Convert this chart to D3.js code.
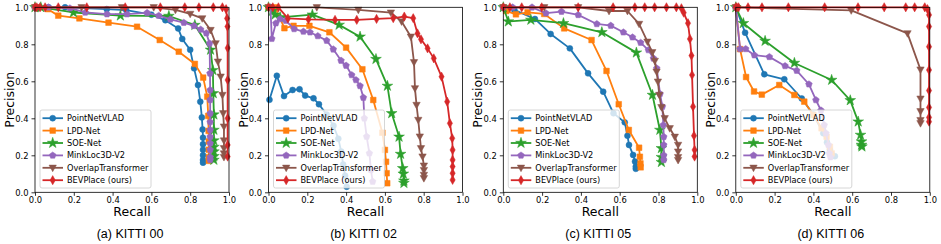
<!DOCTYPE html>
<html><head><meta charset="utf-8">
<script src="https://cdn.jsdelivr.net/npm/d3@7"></script>
<style>body{margin:0;background:#fff;} svg{display:block;}</style>
</head><body>
<svg id="c" width="941" height="244"></svg>
<script>
// ---------- data ----------
const seriesNames = ["PointNetVLAD","LPD-Net","SOE-Net","MinkLoc3D-V2","OverlapTransformer","BEVPlace (ours)"];
const seriesColors = ["#1f77b4","#ff7f0e","#2ca02c","#9467bd","#8c564b","#d62728"];
const seriesMarkers = ["circle","square","star","pentagon","tridown","thindiamond"];
const captions = ["(a) KITTI 00","(b) KITTI 02","(c) KITTI 05","(d) KITTI 06"];
const tickValues = [0,0.2,0.4,0.6,0.8,1.0];

// KITTI 00 : [recall, precision]
const k00_pointnetvlad = [[0,1],[0.07,1.0],[0.155,1.0],[0.37,0.99],[0.47,0.985],[0.6,0.96],[0.672,0.93],[0.738,0.886],[0.759,0.829],[0.8,0.77],[0.82,0.67],[0.84,0.58],[0.852,0.49],[0.86,0.405],[0.864,0.34],[0.866,0.295],[0.866,0.26],[0.866,0.23],[0.866,0.2],[0.866,0.175],[0.866,0.16]];
const k00_lpdnet = [[0,1],[0.02,1.0],[0.067,0.99],[0.12,0.955],[0.229,0.94],[0.379,0.917],[0.526,0.895],[0.643,0.823],[0.741,0.76],[0.824,0.694],[0.867,0.62],[0.888,0.517],[0.893,0.413],[0.895,0.332],[0.896,0.275],[0.896,0.23],[0.896,0.19],[0.896,0.17]];
const k00_soenet = [[0,1],[0.03,1.0],[0.198,0.972],[0.44,0.955],[0.69,0.953],[0.824,0.904],[0.905,0.77],[0.917,0.66],[0.919,0.535],[0.922,0.42],[0.922,0.337],[0.922,0.28],[0.922,0.245],[0.922,0.22],[0.922,0.195],[0.922,0.175]];
const k00_minkloc = [[0,1],[0.069,1.0],[0.18,0.995],[0.259,0.972],[0.371,0.963],[0.474,0.963],[0.578,0.97],[0.638,0.955],[0.698,0.935],[0.767,0.917],[0.819,0.9],[0.854,0.88],[0.883,0.86],[0.9,0.805],[0.902,0.643],[0.903,0.553],[0.903,0.5],[0.903,0.427],[0.903,0.38],[0.903,0.337],[0.903,0.3],[0.903,0.265],[0.903,0.23],[0.903,0.19],[0.903,0.175]];
const k00_overlap = [[0,1],[0.24,1.0],[0.448,1.0],[0.612,1.0],[0.724,0.986],[0.8,0.964],[0.862,0.94],[0.905,0.877],[0.931,0.805],[0.943,0.706],[0.957,0.625],[0.966,0.526],[0.97,0.427],[0.974,0.355],[0.974,0.28],[0.974,0.238],[0.974,0.21],[0.974,0.19]];
const k00_bevplace = [[0,1],[0.009,1],[0.026,1],[0.052,1],[0.12,1],[0.267,1],[0.465,1],[0.646,1],[0.772,1],[0.845,1],[0.919,1],[0.966,1],[0.985,0.99],[0.99,0.94],[0.992,0.896],[0.993,0.78],[0.993,0.607],[0.993,0.4],[0.993,0.256],[0.993,0.193]];

// KITTI 02
const k02_pointnetvlad = [[0.005,0.5],[0.043,0.63],[0.08,0.52],[0.124,0.553],[0.16,0.557],[0.189,0.523],[0.232,0.508],[0.26,0.476],[0.3,0.42],[0.335,0.36],[0.36,0.29],[0.375,0.22],[0.385,0.15],[0.395,0.09],[0.403,0.03]];
const k02_lpdnet = [[0,1],[0.034,1.0],[0.082,0.887],[0.129,0.9],[0.211,0.9],[0.314,0.865],[0.4,0.782],[0.484,0.665],[0.54,0.499],[0.587,0.322],[0.6,0.229],[0.606,0.165],[0.609,0.103],[0.612,0.049]];
const k02_soenet = [[0,1],[0.02,0.98],[0.034,0.96],[0.06,0.946],[0.226,0.96],[0.364,0.905],[0.472,0.841],[0.554,0.72],[0.613,0.575],[0.635,0.427],[0.673,0.3],[0.681,0.207],[0.692,0.13],[0.695,0.1],[0.698,0.063],[0.698,0.05]];
const k02_minkloc = [[0.01,1.0],[0.017,0.83],[0.038,0.914],[0.06,0.937],[0.089,0.928],[0.132,0.883],[0.18,0.869],[0.214,0.865],[0.254,0.845],[0.3,0.82],[0.334,0.773],[0.374,0.712],[0.4,0.685],[0.429,0.634],[0.451,0.607],[0.472,0.575],[0.489,0.512],[0.494,0.4],[0.506,0.301],[0.52,0.211],[0.528,0.121],[0.537,0.058]];
const k02_overlap = [[0,1],[0.249,1.0],[0.463,0.986],[0.631,0.971],[0.686,0.923],[0.734,0.841],[0.75,0.703],[0.755,0.562],[0.763,0.472],[0.772,0.391],[0.78,0.301],[0.786,0.238],[0.794,0.193],[0.801,0.144],[0.801,0.12],[0.801,0.094],[0.801,0.076]];
const k02_bevplace = [[0,1],[0.022,1],[0.051,1],[0.1,0.94],[0.206,0.935],[0.343,0.932],[0.455,0.932],[0.557,0.937],[0.643,0.941],[0.7,0.95],[0.746,0.941],[0.768,0.859],[0.786,0.827],[0.82,0.778],[0.852,0.724],[0.892,0.625],[0.921,0.49],[0.935,0.373],[0.947,0.292],[0.949,0.229],[0.949,0.175],[0.949,0.139],[0.949,0.103],[0.949,0.067]];

// KITTI 05
const k05_pointnetvlad = [[0,1],[0.057,0.986],[0.163,0.937],[0.244,0.856],[0.343,0.778],[0.437,0.643],[0.515,0.544],[0.568,0.427],[0.626,0.378],[0.64,0.306],[0.648,0.256],[0.669,0.202],[0.679,0.166],[0.683,0.139],[0.683,0.127]];
const k05_lpdnet = [[0,1],[0.015,0.98],[0.065,0.962],[0.125,0.973],[0.211,0.964],[0.314,0.886],[0.455,0.823],[0.532,0.656],[0.595,0.476],[0.647,0.337],[0.7,0.241],[0.704,0.192],[0.707,0.156],[0.708,0.135]];
const k05_soenet = [[0,1],[0.026,0.923],[0.142,0.932],[0.31,0.914],[0.508,0.865],[0.686,0.755],[0.769,0.526],[0.807,0.337],[0.815,0.238],[0.815,0.19],[0.815,0.163]];
const k05_minkloc = [[0,1],[0.048,1.0],[0.148,1.0],[0.22,0.968],[0.3,0.977],[0.386,0.959],[0.482,0.91],[0.554,0.901],[0.619,0.865],[0.666,0.838],[0.708,0.809],[0.748,0.769],[0.774,0.724],[0.791,0.67],[0.808,0.532],[0.82,0.463],[0.825,0.364],[0.827,0.3],[0.827,0.256],[0.827,0.2],[0.827,0.175]];
const k05_overlap = [[0,1],[0.211,1.0],[0.386,1.0],[0.545,0.98],[0.64,0.98],[0.7,0.91],[0.743,0.814],[0.768,0.757],[0.781,0.71],[0.79,0.652],[0.797,0.598],[0.804,0.526],[0.815,0.46],[0.832,0.4],[0.858,0.346],[0.884,0.3],[0.901,0.256],[0.901,0.22],[0.901,0.19],[0.901,0.174]];
const k05_bevplace = [[0,1],[0.034,1],[0.095,1],[0.198,1],[0.386,1],[0.566,1],[0.678,1],[0.729,1],[0.78,1],[0.841,1],[0.892,1],[0.918,0.995],[0.93,0.971],[0.952,0.914],[0.962,0.829],[0.97,0.739],[0.973,0.634],[0.978,0.463],[0.983,0.306],[0.986,0.229],[0.986,0.193]];

// KITTI 06
const k06_pointnetvlad = [[0,1],[0.048,0.863],[0.147,0.638],[0.25,0.611],[0.34,0.507],[0.4,0.42],[0.451,0.319],[0.47,0.27],[0.485,0.23],[0.494,0.205],[0.511,0.195]];
const k06_lpdnet = [[0,1],[0.022,0.774],[0.053,0.623],[0.094,0.545],[0.134,0.528],[0.224,0.58],[0.302,0.526],[0.353,0.49],[0.4,0.418],[0.442,0.346],[0.468,0.3],[0.485,0.246],[0.494,0.21]];
const k06_soenet = [[0,1],[0.039,0.914],[0.151,0.818],[0.302,0.699],[0.494,0.607],[0.59,0.497],[0.631,0.382],[0.643,0.31],[0.648,0.274],[0.648,0.256],[0.65,0.247]];
const k06_minkloc = [[0,1],[0.022,0.775],[0.051,0.775],[0.096,0.741],[0.173,0.732],[0.254,0.683],[0.314,0.658],[0.377,0.584],[0.413,0.499],[0.439,0.443],[0.456,0.364],[0.465,0.319],[0.477,0.256],[0.482,0.211],[0.488,0.19]];
const k06_overlap = [[0,1],[0.595,0.983],[0.885,0.859],[0.952,0.663],[0.952,0.506],[0.952,0.438],[0.952,0.39],[0.952,0.373]];
const k06_bevplace = [[0,1],[0.005,1],[0.014,1],[0.063,1],[0.135,1],[0.271,1],[0.458,1],[0.63,1],[0.765,1],[0.876,1],[0.922,1],[0.974,1],[0.988,0.99],[0.996,0.959],[0.996,0.896],[0.996,0.787],[0.996,0.661],[0.996,0.55],[0.996,0.459],[0.996,0.405],[0.996,0.382]];

const panels = [
  [k00_pointnetvlad,k00_lpdnet,k00_soenet,k00_minkloc,k00_overlap,k00_bevplace],
  [k02_pointnetvlad,k02_lpdnet,k02_soenet,k02_minkloc,k02_overlap,k02_bevplace],
  [k05_pointnetvlad,k05_lpdnet,k05_soenet,k05_minkloc,k05_overlap,k05_bevplace],
  [k06_pointnetvlad,k06_lpdnet,k06_soenet,k06_minkloc,k06_overlap,k06_bevplace]
];

// ---------- layout ----------
const svg = d3.select("#c");
const panelLeft = [35, 268.5, 503.3, 735.8];
const pw = 194, plotTop = 7.3, plotBottom = 192.3;
const FONT = "DejaVu Sans, sans-serif";

function markerPath(type){
  switch(type){
    case "circle": return d3.symbol(d3.symbolCircle, 28)();
    case "square": return d3.symbol(d3.symbolSquare, 32)();
    case "star": return d3.symbol(d3.symbolStar, 36)();
    case "pentagon": {
      const r=3.5, pts=[];
      for(let i=0;i<5;i++){const a=-Math.PI/2+i*2*Math.PI/5; pts.push([r*Math.cos(a), r*Math.sin(a)]);}
      return "M"+pts.map(p=>p.join(",")).join("L")+"Z";
    }
    case "tridown": return "M-3.7,-2.7L3.7,-2.7L0,3.9Z";
    case "thindiamond": return "M0,-4.6L2.6,0L0,4.6L-2.6,0Z";
  }
}

panels.forEach((series, pi) => {
  const left = panelLeft[pi];
  const x = d3.scaleLinear().domain([0,1]).range([left, left+pw]);
  const y = d3.scaleLinear().domain([0,1]).range([plotBottom, plotTop]);
  const g = svg.append("g");

  // axes
  const xa = g.append("g").attr("transform",`translate(0,${plotBottom})`)
    .call(d3.axisBottom(x).tickValues(tickValues).tickFormat(d3.format(".1f")).tickSizeOuter(0).tickSize(3.5).tickPadding(1.5));
  const ya = g.append("g").attr("transform",`translate(${left},0)`)
    .call(d3.axisLeft(y).tickValues(tickValues).tickFormat(d3.format(".1f")).tickSizeOuter(0).tickSize(3.5).tickPadding(3));
  [xa,ya].forEach(a=>{
    a.select(".domain").remove();
    a.selectAll("line").attr("stroke","#000").attr("stroke-width",0.8);
    a.selectAll("text").attr("font-family",FONT).attr("font-size",8.4).attr("fill","#000");
  });

  // lines + markers
  const line = d3.line().x(d=>x(d[0])).y(d=>y(d[1]));
  series.forEach((data, si) => {
    const col = seriesColors[si];
    g.append("path").attr("d", line(data)).attr("fill","none")
      .attr("stroke", col).attr("stroke-width", 1.8).attr("stroke-linejoin","round");
    g.selectAll(null).data(data).enter().append("path")
      .attr("d", markerPath(seriesMarkers[si]))
      .attr("transform", d=>`translate(${x(d[0])},${y(d[1])})`)
      .attr("fill", col).attr("stroke", col).attr("stroke-width",0.5);
  });

  // frame
  g.append("rect").attr("x",left).attr("y",plotTop).attr("width",pw).attr("height",plotBottom-plotTop)
    .attr("fill","none").attr("stroke","#000").attr("stroke-width",0.8);

  // legend
  const lx = left+5, ly = 110, lw = 111, lh = 78;
  const lg = g.append("g");
  lg.append("rect").attr("x",lx).attr("y",ly).attr("width",lw).attr("height",lh).attr("rx",2)
    .attr("fill","#fff").attr("fill-opacity",0.8).attr("stroke","#ccc").attr("stroke-width",0.8);
  seriesNames.forEach((name, si) => {
    const yy = ly + 8.2 + si*12.4;
    lg.append("line").attr("x1",lx+2.5).attr("x2",lx+23).attr("y1",yy).attr("y2",yy)
      .attr("stroke",seriesColors[si]).attr("stroke-width",1.8);
    lg.append("path").attr("d",markerPath(seriesMarkers[si])).attr("transform",`translate(${lx+12.7},${yy})`)
      .attr("fill",seriesColors[si]).attr("stroke",seriesColors[si]).attr("stroke-width",0.5);
    lg.append("text").attr("x",lx+27).attr("y",yy+3).text(name)
      .attr("font-family",FONT).attr("font-size",8.2).attr("fill","#000");
  });

  // axis labels
  g.append("text").attr("x",left+pw/2).attr("y",216).attr("text-anchor","middle")
    .attr("font-family",FONT).attr("font-size",12.5).text("Recall");
  g.append("text").attr("transform",`translate(${left-21},${(plotTop+plotBottom)/2}) rotate(-90)`)
    .attr("text-anchor","middle").attr("font-family",FONT).attr("font-size",12.5).text("Precision");
  // caption
  g.append("text").attr("x",left+pw/2-2).attr("y",238).attr("text-anchor","middle")
    .attr("font-family","Liberation Sans, Arial, sans-serif").attr("font-size",12.5).text(captions[pi]);
});
</script>
</body></html>
